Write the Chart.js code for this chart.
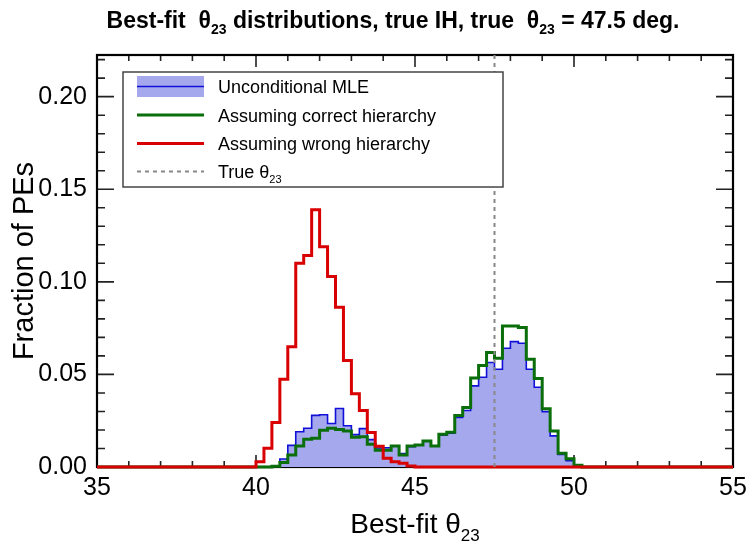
<!DOCTYPE html>
<html>
<head>
<meta charset="utf-8">
<script src="https://cdn.jsdelivr.net/npm/chart.js@4/dist/chart.umd.min.js"></script>
<style>
  html, body { margin: 0; padding: 0; background: #fff; }
  #c { display: block; }
</style>
</head>
<body>
<canvas id="c" width="748" height="545"></canvas>
<script>
// ── histogram binning ─────────────────────────────────────────────
const binStart  = 35;      // left edge of the axis
const binEnd    = 55;
const binWidth  = 0.25;
const dataStart = 40.0;    // first bin stored in the arrays below
const trueTheta = 47.5;

// fraction of PEs per 0.25 deg bin, starting at 40.00 deg (zero elsewhere)
const uncondMLE = [
  0, 0, 0.0005, 0.0043, 0.0117, 0.0190, 0.0209, 0.0279, 0.0282, 0.0235,
  0.0316, 0.0223, 0.0175, 0.0207, 0.0148, 0.0103, 0.0104, 0.0113, 0.0072, 0.0110,
  0.0118, 0.0139, 0.0113, 0.0172, 0.0182, 0.0268, 0.0305, 0.0438, 0.0485, 0.0564,
  0.0528, 0.0641, 0.0677, 0.0668, 0.0528, 0.0431, 0.0299, 0.0168, 0.0068, 0.0034,
  0.0005, 0
];
const correctHier = [
  0, 0, 0.0004, 0.0024, 0.0065, 0.0113, 0.0150, 0.0155, 0.0199, 0.0209,
  0.0203, 0.0194, 0.0160, 0.0164, 0.0123, 0.0090, 0.0091, 0.0114, 0.0065, 0.0113,
  0.0119, 0.0140, 0.0113, 0.0177, 0.0187, 0.0278, 0.0322, 0.0480, 0.0548, 0.0618,
  0.0587, 0.0762, 0.0762, 0.0753, 0.0582, 0.0478, 0.0314, 0.0195, 0.0074, 0.0045,
  0.0009, 0
];
const wrongHier = [
  0.0029, 0.0101, 0.0240, 0.0474, 0.0650, 0.1100, 0.1142, 0.1389, 0.1190, 0.1029,
  0.0863, 0.0575, 0.0395, 0.0305, 0.0186, 0.0112, 0.0047, 0.0029, 0.0020, 0.0005
];

const xTicks  = [35, 40, 45, 50, 55];
const yTicks  = [0.00, 0.05, 0.10, 0.15, 0.20];
const yMax    = 0.2225;

const legendLabels = [
  ['Unconditional MLE'],
  ['Assuming correct hierarchy'],
  ['Assuming wrong hierarchy'],
  ['True \u03b8', '23']
];

const FONT = "'Liberation Sans', Arial, Helvetica, sans-serif";
Chart.defaults.font.family = FONT;

// step points: one per bin edge, last value repeated at the right edge
function stepPoints(vals) {
  const pts = [];
  const n = Math.round((binEnd - binStart) / binWidth);
  for (let i = 0; i <= n; i++) {
    const x = binStart + i * binWidth;
    const j = Math.round((Math.min(x, binEnd - binWidth) - dataStart) / binWidth);
    const y = (j >= 0 && j < vals.length) ? vals[j] : 0;
    pts.push({ x, y });
  }
  return pts;
}

// text with subscripts: odd entries of parts are subscripts
function richText(ctx, parts, x, y, size, weight, align) {
  const subSize = Math.round(size * 0.62);
  const widths = parts.map((p, k) => {
    ctx.font = `${weight} ${k % 2 ? subSize : size}px ${FONT}`;
    return ctx.measureText(p).width;
  });
  const total = widths.reduce((a, b) => a + b, 0);
  let cx = align === 'center' ? x - total / 2 : x;
  ctx.textBaseline = 'alphabetic';
  ctx.textAlign = 'left';
  parts.forEach((p, k) => {
    const sub = k % 2 === 1;
    ctx.font = `${weight} ${sub ? subSize : size}px ${FONT}`;
    ctx.fillText(p, cx, sub ? y + size * 0.28 : y);
    cx += widths[k];
  });
}

const framePlugin = {
  id: 'frame',
  beforeDatasetsDraw(chart) {
    const { ctx, chartArea: a, scales: { x, y } } = chart;
    ctx.save();
    ctx.strokeStyle = '#222';
    ctx.lineWidth = 1.6;
    ctx.beginPath();
    for (let v = binStart; v <= binEnd; v++) {
      const px = x.getPixelForValue(v);
      const len = v % 5 === 0 ? 12 : 6;
      ctx.moveTo(px, a.bottom); ctx.lineTo(px, a.bottom - len);
      ctx.moveTo(px, a.top);    ctx.lineTo(px, a.top + len);
    }
    for (let i = 0; i <= 22; i++) {
      const py = y.getPixelForValue(i / 100);
      const len = i % 5 === 0 ? 17 : 8;
      ctx.moveTo(a.left, py);  ctx.lineTo(a.left + len, py);
      ctx.moveTo(a.right, py); ctx.lineTo(a.right - len, py);
    }
    ctx.stroke();
    ctx.lineWidth = 2.2;
    ctx.strokeStyle = '#000';
    ctx.strokeRect(a.left, a.top, a.right - a.left, a.bottom - a.top);
    ctx.restore();
  },
  afterDraw(chart) {
    const { ctx, chartArea: a } = chart;
    ctx.save();
    ctx.fillStyle = '#000';
    // title
    richText(ctx, ['Best-fit  \u03b8', '23', ' distributions, true IH, true  \u03b8', '23', ' = 47.5 deg.'],
      393, 28, 23, 'bold', 'center');
    // x title
    richText(ctx, ['Best-fit \u03b8', '23'], (a.left + a.right) / 2, 533, 28, 'normal', 'center');
    // y title
    ctx.translate(33, (a.top + a.bottom) / 2);
    ctx.rotate(-Math.PI / 2);
    ctx.font = `29px ${FONT}`;
    ctx.textAlign = 'center';
    ctx.textBaseline = 'alphabetic';
    ctx.fillText('Fraction of PEs', 0, 0);
    ctx.restore();

    // legend
    ctx.save();
    const lx = 123, ly = 72, lw = 380, lh = 115;
    ctx.fillStyle = '#fff';
    ctx.fillRect(lx, ly, lw, lh);
    ctx.strokeStyle = '#444';
    ctx.lineWidth = 1.5;
    ctx.strokeRect(lx, ly, lw, lh);
    const rows = [86.5, 115, 143.5, 171.5];
    const sx0 = 137, sx1 = 204;
    // blue fill symbol
    ctx.fillStyle = 'rgb(165,168,236)';
    ctx.fillRect(sx0, rows[0] - 10.5, sx1 - sx0, 21);
    const lines = [
      { c: '#1010d8', w: 1.5, d: [] },
      { c: '#0a6e0a', w: 3, d: [] },
      { c: '#d80000', w: 3, d: [] },
      { c: '#888', w: 2, d: [4, 4] }
    ];
    lines.forEach((l, k) => {
      ctx.strokeStyle = l.c; ctx.lineWidth = l.w; ctx.setLineDash(l.d);
      ctx.beginPath(); ctx.moveTo(sx0, rows[k]); ctx.lineTo(sx1, rows[k]); ctx.stroke();
    });
    ctx.setLineDash([]);
    ctx.fillStyle = '#000';
    legendLabels.forEach((parts, k) => richText(ctx, parts, 218, rows[k] + 6.5, 18, 'normal', 'left'));
    ctx.restore();
  }
};

// 'before': horizontal at the bin value, then vertical at the next edge
const stepBase = { stepped: 'before', pointRadius: 0, tension: 0, clip: false };

new Chart(document.getElementById('c'), {
  type: 'line',
  data: {
    datasets: [
      { ...stepBase, label: 'True theta23', data: [{ x: trueTheta, y: 0 }, { x: trueTheta, y: yMax }],
        borderColor: '#888', borderWidth: 2, borderDash: [4, 4], stepped: false, fill: false, order: 0 },
      { ...stepBase, label: 'Assuming wrong hierarchy', data: stepPoints(wrongHier),
        borderColor: '#d80000', borderWidth: 3, fill: false, order: 1 },
      { ...stepBase, label: 'Assuming correct hierarchy', data: stepPoints(correctHier),
        borderColor: '#0a6e0a', borderWidth: 3, fill: false, order: 2 },
      { ...stepBase, label: 'Unconditional MLE', data: stepPoints(uncondMLE),
        borderColor: '#1010d8', borderWidth: 1.6, fill: 'origin',
        backgroundColor: 'rgb(165,168,236)', order: 3 }
    ]
  },
  options: {
    responsive: false,
    animation: false,
    events: [],
    layout: { padding: { left: 0, right: 15, top: 55, bottom: 0 } },
    plugins: { legend: { display: false }, tooltip: { enabled: false }, title: { display: false } },
    scales: {
      x: {
        type: 'linear', min: binStart, max: binEnd,
        afterBuildTicks: s => { s.ticks = xTicks.map(v => ({ value: v })); },
        ticks: { color: '#000', font: { size: 25 }, padding: 6, maxRotation: 0, autoSkip: false },
        grid: { display: false, drawTicks: false },
        border: { display: false },
        afterFit: s => { s.height = 78; s.paddingLeft = 0; s.paddingRight = 0; }
      },
      y: {
        type: 'linear', min: 0, max: yMax,
        afterBuildTicks: s => { s.ticks = yTicks.map(v => ({ value: v })); },
        ticks: { color: '#000', font: { size: 25 }, padding: 10, callback: v => v.toFixed(2) },
        grid: { display: false, drawTicks: false },
        border: { display: false },
        afterFit: s => { s.width = 97; s.paddingTop = 0; s.paddingBottom = 0; }
      }
    }
  },
  plugins: [framePlugin]
});
</script>
</body>
</html>
